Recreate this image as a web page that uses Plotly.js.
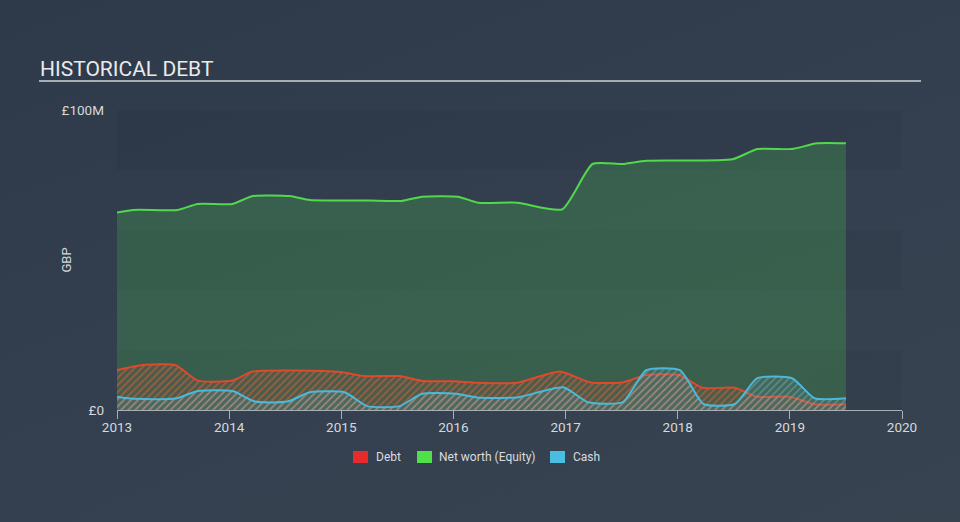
<!DOCTYPE html>
<html>
<head>
<meta charset="utf-8">
<script src="https://cdn.plot.ly/plotly-3.0.1.min.js"></script>
<style>
  html, body { margin:0; padding:0; width:960px; height:522px; overflow:hidden;
    background: linear-gradient(160deg, #2e3a4a 0%, #344050 55%, #37434f 100%); }
  #chart { width:960px; height:522px; }
</style>
</head>
<body>
<div id="chart"></div>
<script>
// ---- Data (GBP millions, x in decimal years) ----
const netWorthX = [2013.0, 2013.15, 2013.54, 2013.72, 2014.03, 2014.21, 2014.54, 2014.72, 2015.25, 2015.54, 2015.72, 2016.04, 2016.22, 2016.57, 2016.97, 2017.24, 2017.51, 2017.72, 2018.49, 2018.71, 2019.02, 2019.24, 2019.5];
const netWorthY = [65.8, 66.7, 66.7, 68.7, 68.7, 71.3, 71.3, 70.0, 69.8, 69.7, 71.1, 71.1, 69.1, 69.1, 66.9, 82.0, 82.0, 83.1, 83.6, 87.0, 87.0, 88.9, 88.9];

const debtX = [2013.0, 2013.23, 2013.52, 2013.72, 2014.03, 2014.21, 2014.99, 2015.2, 2015.52, 2015.72, 2016.0, 2016.21, 2016.57, 2016.95, 2017.22, 2017.51, 2017.72, 2018.02, 2018.22, 2018.51, 2018.71, 2019.0, 2019.22, 2019.5];
const debtY = [13.3, 15.0, 15.0, 9.8, 9.8, 12.8, 12.7, 11.3, 11.3, 9.7, 9.6, 9.1, 9.1, 12.8, 9.2, 9.2, 11.7, 11.6, 7.4, 7.4, 4.4, 4.4, 1.9, 1.9];

const cashX = [2013.0, 2013.12, 2013.52, 2013.72, 2014.03, 2014.23, 2014.52, 2014.72, 2015.03, 2015.23, 2015.52, 2015.72, 2016.02, 2016.21, 2016.57, 2016.98, 2017.2, 2017.51, 2017.72, 2018.02, 2018.23, 2018.51, 2018.71, 2019.02, 2019.22, 2019.5];
const cashY = [4.4, 3.8, 3.8, 6.3, 6.3, 2.8, 2.8, 5.9, 5.9, 1.3, 1.3, 5.4, 5.4, 4.2, 4.2, 7.6, 2.6, 2.6, 13.3, 13.3, 2.0, 2.0, 10.6, 10.6, 3.9, 3.9];

const yearTicks = [2013, 2014, 2015, 2016, 2017, 2018, 2019, 2020];
const yTickVals = [0, 100];
const yTickText = ['£0', '£100M'];
const yAxisLabel = 'GBP';
const chartTitle = 'HISTORICAL DEBT';
const legendNames = ['Debt', 'Net worth (Equity)', 'Cash'];
const legendColors = ['#e52b2b', '#4fe04a', '#4bbde0'];

const SMOOTH = 0.55;
const traces = [
  {
    x: netWorthX, y: netWorthY, type: 'scatter', mode: 'lines',
    line: {color: '#52d94b', width: 2, shape: 'spline', smoothing: SMOOTH},
    fill: 'tozeroy', fillcolor: 'rgba(76,190,80,0.26)', hoverinfo: 'skip'
  },
  {
    x: debtX, y: debtY, type: 'scatter', mode: 'lines',
    line: {color: '#e0492b', width: 2, shape: 'spline', smoothing: SMOOTH},
    fill: 'tozeroy', fillcolor: 'rgba(200,80,50,0.14)',
    fillpattern: {shape: '/', fgcolor: 'rgba(225,95,60,0.6)', bgcolor: 'rgba(190,80,50,0.14)', size: 5, solidity: 0.3},
    hoverinfo: 'skip'
  },
  {
    x: cashX, y: cashY, type: 'scatter', mode: 'lines',
    line: {color: '#4ab9dc', width: 2, shape: 'spline', smoothing: SMOOTH},
    fill: 'tozeroy', fillcolor: 'rgba(74,184,216,0.16)',
    fillpattern: {shape: '/', fgcolor: 'rgba(165,172,180,0.45)', bgcolor: 'rgba(74,170,200,0.16)', size: 5, solidity: 0.3},
    hoverinfo: 'skip'
  }
];

// plot area: x 117..902, y 110..410
const px = v => (v - 117) / 785;
const py = v => (410 - v) / 300;

const shapes = [];
[[0,20],[40,60],[80,100]].forEach(b => shapes.push({
  type: 'rect', xref: 'paper', yref: 'y', x0: 0, x1: 1, y0: b[0], y1: b[1],
  fillcolor: 'rgba(0,0,0,0.045)', line: {width: 0}, layer: 'below'
}));
shapes.push({type: 'line', xref: 'paper', yref: 'paper', x0: px(39), x1: px(921), y0: py(81), y1: py(81),
  line: {color: '#a7acb3', width: 2}});

const legSq = [[353, 368], [417, 432], [550, 565]];
const legTx = [374, 437, 571];
const annotations = [{
  xref: 'paper', yref: 'paper', x: px(38), y: py(69), xanchor: 'left', yanchor: 'middle',
  text: chartTitle, showarrow: false, font: {family: 'Roboto', size: 21, color: '#e8eaec'}
}, {
  xref: 'paper', yref: 'paper', x: px(65.5), y: py(260), xanchor: 'center', yanchor: 'middle',
  text: yAxisLabel, textangle: -90, showarrow: false, font: {family: 'Roboto', size: 13, color: '#d5d9dd'}
}];
legSq.forEach((s, i) => {
  shapes.push({type: 'rect', xref: 'paper', yref: 'paper', x0: px(s[0]), x1: px(s[1]), y0: py(463), y1: py(451),
    fillcolor: legendColors[i], line: {width: 0}});
  annotations.push({xref: 'paper', yref: 'paper', x: px(legTx[i]), y: py(457), xanchor: 'left', yanchor: 'middle',
    text: legendNames[i], showarrow: false, font: {family: 'Roboto', size: 12, color: '#d8dbdf'}});
});

const layout = {
  width: 960, height: 522,
  margin: {l: 117, r: 58, t: 110, b: 112, autoexpand: false},
  paper_bgcolor: 'rgba(0,0,0,0)', plot_bgcolor: 'rgba(0,0,0,0)',
  showlegend: false,
  font: {family: 'Roboto', color: '#d5d9dd'},
  xaxis: {
    range: [2013, 2020], tickvals: yearTicks, ticktext: yearTicks.map(String),
    showgrid: false, zeroline: false, showline: true, linecolor: '#a9afb7', linewidth: 1,
    ticks: 'outside', ticklen: 8, tickcolor: '#a9afb7', tickwidth: 1,
    ticklabelstandoff: -3,
    tickfont: {family: 'Roboto', size: 13.5, color: '#d5d9dd'}, fixedrange: true
  },
  yaxis: {
    range: [0, 100], tickvals: yTickVals, ticktext: yTickText,
    showgrid: false, zeroline: false, showline: false, ticks: '',
    ticklabelstandoff: 12,
    tickfont: {family: 'Roboto', size: 13.5, color: '#d5d9dd'},
    fixedrange: true
  },
  shapes: shapes,
  annotations: annotations
};

Plotly.newPlot('chart', traces, layout, {staticPlot: true, displayModeBar: false});
</script>
</body>
</html>
